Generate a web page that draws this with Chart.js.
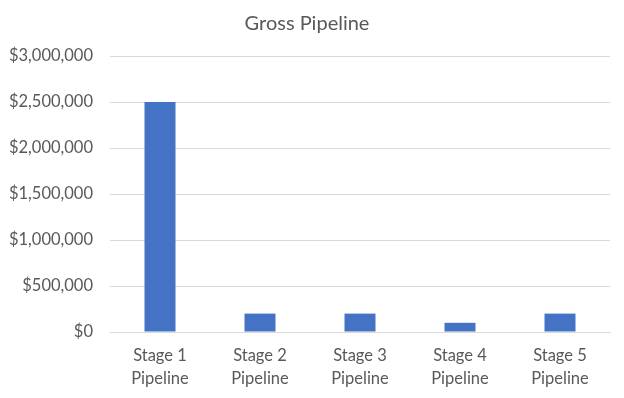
<!DOCTYPE html>
<html>
<head>
<meta charset="utf-8">
<script src="https://cdn.jsdelivr.net/npm/chart.js@4/dist/chart.umd.min.js"></script>
<style>
  html, body { margin: 0; padding: 0; background: #fff; }
  #wrap { width: 624px; height: 398px; }
</style>
</head>
<body>
<div id="wrap"><canvas id="pipelineChart"></canvas></div>
<script>
// data
const stages = [['Stage 1', 'Pipeline'], ['Stage 2', 'Pipeline'], ['Stage 3', 'Pipeline'], ['Stage 4', 'Pipeline'], ['Stage 5', 'Pipeline']];
const grossValues = [2500000, 200000, 200000, 100000, 200000];
const yMax = 3000000;
const yStep = 500000;

const fmt = v => '$' + Number(v).toLocaleString('en-US');

const ctx = document.getElementById('pipelineChart').getContext('2d');
new Chart(ctx, {
  type: 'bar',
  data: {
    labels: stages,
    datasets: [{
      label: 'Gross Pipeline',
      data: grossValues,
      backgroundColor: '#4472c4',
      barPercentage: 0.62,
      categoryPercentage: 0.5
    }]
  },
  options: {
    responsive: true,
    maintainAspectRatio: false,
    animation: false,
    layout: { padding: { left: 4, right: 14, top: 6, bottom: 0 } },
    scales: {
      y: {
        min: 0,
        max: yMax,
        afterFit: s => { s.width = 106; },
        ticks: {
          stepSize: yStep,
          color: '#595959',
          font: { family: 'Lato', size: 16.5 },
          padding: 17,
          callback: v => fmt(v)
        },
        grid: { color: '#d9d9d9', drawTicks: false },
        border: { display: false }
      },
      x: {
        afterFit: s => { s.height = 66; },
        ticks: {
          color: '#595959',
          font: { family: 'Lato', size: 16.5, lineHeight: 1.4 },
          padding: 12
        },
        grid: { display: false, drawTicks: false },
        border: { color: '#d9d9d9' }
      }
    },
    plugins: {
      legend: { display: false },
      tooltip: { enabled: false },
      title: {
        display: true,
        text: 'Gross Pipeline',
        color: '#595959',
        font: { family: 'Lato', size: 20, weight: 'normal' },
        padding: { top: 6, bottom: 20 }
      }
    }
  }
});
</script>
</body>
</html>
